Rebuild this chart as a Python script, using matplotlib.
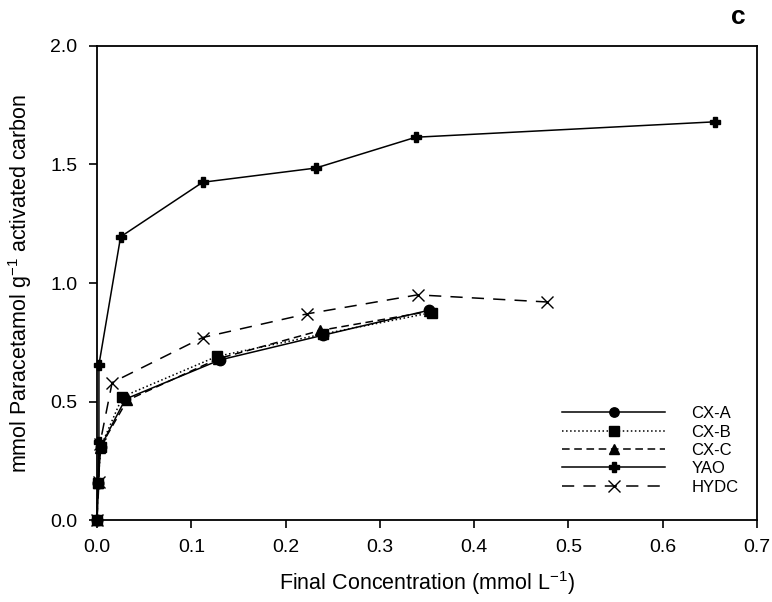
import matplotlib
matplotlib.use("Agg")
import matplotlib.pyplot as plt

plt.rcParams['font.family'] = ['Liberation Sans', 'DejaVu Sans']
plt.rcParams['mathtext.default'] = 'regular'

# data
cxa_x = [0.0, 0.001, 0.004, 0.030, 0.130, 0.240, 0.352]
cxa_y = [0.0, 0.155, 0.310, 0.510, 0.675, 0.780, 0.885]
cxb_x = [0.0, 0.001, 0.004, 0.027, 0.127, 0.240, 0.355]
cxb_y = [0.0, 0.155, 0.310, 0.520, 0.690, 0.785, 0.875]
cxc_x = [0.0, 0.001, 0.003, 0.032, 0.128, 0.237, 0.352]
cxc_y = [0.0, 0.155, 0.305, 0.505, 0.680, 0.800, 0.880]
yao_x = [0.0, 0.001, 0.002, 0.002, 0.025, 0.112, 0.232, 0.338, 0.655]
yao_y = [0.0, 0.155, 0.330, 0.655, 1.195, 1.425, 1.485, 1.615, 1.680]
hydc_x = [0.0, 0.002, 0.003, 0.016, 0.112, 0.223, 0.340, 0.477]
hydc_y = [0.0, 0.160, 0.320, 0.580, 0.770, 0.870, 0.950, 0.920]

fig = plt.figure(figsize=(7.72, 6.02), dpi=100)
ax = fig.add_axes([0.1257, 0.1362, 0.8549, 0.7874])

lw = 1.1
kw = dict(color='black', lw=lw, clip_on=False)
ax.plot(cxa_x, cxa_y, ls='-', marker='o', ms=7.5, label='CX-A', **kw)
ax.plot(cxb_x, cxb_y, ls=':', marker='s', ms=7.5, label='CX-B', **kw)
ax.plot(cxc_x, cxc_y, ls=(0, (5, 3)), marker='^', ms=7.5, label='CX-C', **kw)
ax.plot(yao_x, yao_y, ls='-', marker='P', ms=7.5, label='YAO', **kw)
ax.plot(hydc_x, hydc_y, ls=(0, (8, 6)), marker='x', ms=9, mew=1.0, label='HYDC', **kw)

ax.set_xlim(0, 0.7)
ax.set_ylim(0, 2.0)
ax.set_xticks([0.0, 0.1, 0.2, 0.3, 0.4, 0.5, 0.6, 0.7])
ax.set_yticks([0.0, 0.5, 1.0, 1.5, 2.0])
ax.xaxis.set_major_formatter(matplotlib.ticker.FormatStrFormatter('%.1f'))
ax.yaxis.set_major_formatter(matplotlib.ticker.FormatStrFormatter('%.1f'))
ax.tick_params(direction='out', length=6, width=1.2, labelsize=14, pad=8)
for s in ax.spines.values():
    s.set_linewidth(1.3)

ax.set_xlabel('Final Concentration (mmol L$^{-1}$)', fontsize=15.5, labelpad=9)
ax.set_ylabel('mmol Paracetamol g$^{-1}$ activated carbon', fontsize=15.5, labelpad=12)
ax.text(0.982, 1.035, 'c', transform=ax.transAxes, fontsize=19, fontweight='bold',
        ha='right', va='bottom')

leg = ax.legend(loc='lower left', bbox_to_anchor=(0.682, 0.022), frameon=False,
                fontsize=12, handlelength=6.2, handletextpad=1.55, labelspacing=0.2,
                markerscale=0.9)

fig.savefig('out.png', dpi=100)
